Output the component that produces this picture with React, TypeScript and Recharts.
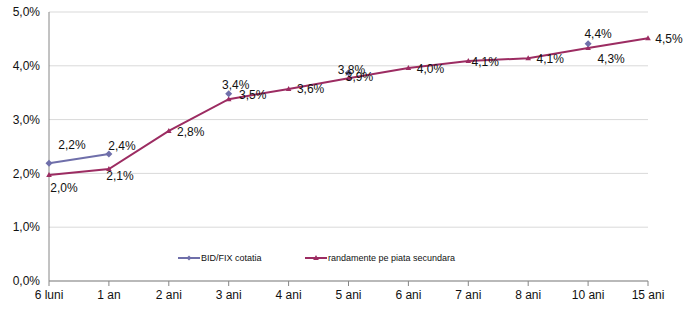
import React from 'react';
import { LineChart, Line, XAxis, YAxis, CartesianGrid } from 'recharts';

const categories = ['6 luni', '1 an', '2 ani', '3 ani', '4 ani', '5 ani', '6 ani', '7 ani', '8 ani', '10 ani', '15 ani'];
const bidFix = [2.19, 2.36, null, 3.48, null, 3.87, null, null, null, 4.41, null];
const secundara = [1.97, 2.08, 2.79, 3.38, 3.57, 3.77, 3.96, 4.09, 4.14, 4.33, 4.51];
const bidFixLabels = ['2,2%', '2,4%', '', '3,4%', '', '3,8%', '', '', '', '4,4%', ''];
const secundaraLabels = ['2,0%', '2,1%', '2,8%', '3,5%', '3,6%', '3,9%', '4,0%', '4,1%', '4,1%', '4,3%', '4,5%'];
const yTicks = [0, 1, 2, 3, 4, 5];

// label offsets (center of text relative to the point)
const bidOffsets: Record<number, [number, number]> = {
  0: [23, -18], 1: [13, -8], 3: [7, -9], 5: [3, -3], 9: [10, -10],
};
const secOffsets: Record<number, [number, number]> = {
  0: [15, 13], 1: [11, 7], 2: [22, 1], 3: [24, -4], 4: [22, 0], 5: [11, -1],
  6: [22, 1], 7: [17, 1], 8: [22, 1], 9: [23, 11], 10: [21, 0],
};

const BLUE = '#6f6faa';
const WINE = '#9c2c62';
const FONT = '"Liberation Sans", Arial, sans-serif';

const data = categories.map((name, i) => ({ name, bid: bidFix[i], sec: secundara[i] }));

const fmt = (v: number) => v.toFixed(1).replace('.', ',') + '%';

const Diamond = (props: any) => {
  const { cx, cy, value } = props;
  if (value == null || cx == null || cy == null) return null;
  const r = 3.5;
  return <path d={`M${cx},${cy - r}L${cx + r},${cy}L${cx},${cy + r}L${cx - r},${cy}Z`} fill={BLUE} />;
};

const Triangle = (props: any) => {
  const { cx, cy } = props;
  if (cx == null || cy == null) return null;
  return <path d={`M${cx},${cy - 3}L${cx + 2.8},${cy + 2}L${cx - 2.8},${cy + 2}Z`} fill={WINE} />;
};

const makeLabel = (texts: string[], offsets: Record<number, [number, number]>) => (props: any) => {
  const { x, y, index, value } = props;
  if (value == null || !texts[index]) return null;
  const [dx, dy] = offsets[index] || [15, 0];
  return (
    <text x={x + dx} y={y + dy} dy="0.35em" textAnchor="middle" fontSize={12} fill="#111" fontFamily={FONT}>
      {texts[index]}
    </text>
  );
};

const LegendOverlay = () => (
  <svg width={300} height={12} style={{ position: 'absolute', left: 178, top: 252, overflow: 'visible' }}>
    <line x1={0} y1={6} x2={22} y2={6} stroke={BLUE} strokeWidth={2} />
    <path d="M11,3.5L13.5,6L11,8.5L8.5,6Z" fill={BLUE} />
    <text x={23} y={6} dy="0.35em" fontSize={9} fill="#111" fontFamily={FONT}>BID/FIX cotatia</text>
    <line x1={127} y1={6} x2={149} y2={6} stroke={WINE} strokeWidth={2} />
    <path d="M138,3L140.8,8L135.2,8Z" fill={WINE} />
    <text x={150} y={6} dy="0.35em" fontSize={9} fill="#111" fontFamily={FONT}>randamente pe piata secundara</text>
  </svg>
);

export default function App() {
  return (
    <div style={{ position: 'absolute', left: 0, top: 0, width: 683, height: 309, background: '#fff' }}>
      <LineChart width={683} height={309} data={data} margin={{ top: 12, right: 35, bottom: 0, left: 0 }}>
        <CartesianGrid horizontal vertical={false} stroke="#d9d9d9" />
        <XAxis
          dataKey="name"
          stroke="#868686"
          height={28}
          tickSize={5}
          tickMargin={4}
          tick={{ fill: '#111', fontSize: 12, fontFamily: FONT }}
          interval={0}
        />
        <YAxis
          domain={[0, 5]}
          ticks={yTicks}
          width={49}
          stroke="#868686"
          tickSize={0}
          tickMargin={9}
          tickFormatter={fmt}
          tick={{ fill: '#111', fontSize: 12, fontFamily: FONT }}
        />
        <Line
          dataKey="sec"
          stroke={WINE}
          strokeWidth={2}
          dot={<Triangle />}
          activeDot={false}
          label={makeLabel(secundaraLabels, secOffsets)}
          isAnimationActive={false}
        />
        <Line
          dataKey="bid"
          stroke={BLUE}
          strokeWidth={2}
          dot={<Diamond />}
          activeDot={false}
          label={makeLabel(bidFixLabels, bidOffsets)}
          isAnimationActive={false}
        />
      </LineChart>
      <LegendOverlay />
    </div>
  );
}
